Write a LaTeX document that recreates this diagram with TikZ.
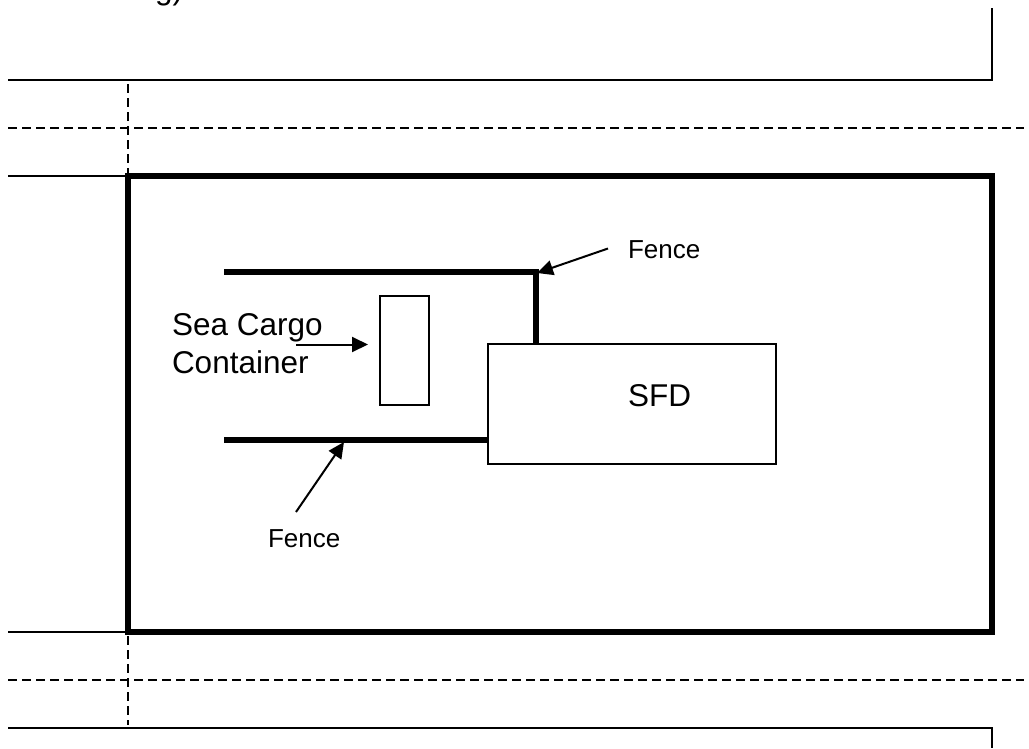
\documentclass[tikz,border=0pt]{standalone}
\usepackage{fontspec}
\setmainfont{Liberation Sans}
\usetikzlibrary{arrows.meta}
\tikzset{
  thin line/.style={line width=2pt,draw=black,line cap=butt},
  dash line/.style={line width=2pt,draw=black,dash pattern=on 8.5pt off 5.5pt},
  thick line/.style={line width=6pt,draw=black,line cap=butt},
  box/.style={draw=black,line width=2pt,fill=white,inner sep=0pt,outer sep=0pt,minimum width=#1},
  lead/.style={line width=2pt,draw=black,-{Triangle[length=16pt,width=15pt]}},
  bigtext/.style={inner sep=0pt,outer sep=0pt,anchor=base west,font=\fontsize{31.5}{38}\selectfont},
  smalltext/.style={inner sep=0pt,outer sep=0pt,anchor=base west,font=\fontsize{26}{31}\selectfont}
}
\begin{document}
\begin{tikzpicture}[x=1pt,y=-1pt]
\useasboundingbox (0,0) rectangle (1029,748);
\clip (0,0) rectangle (1029,748);
% clipped text at the top edge
\node[bigtext] (cut) at (155,-0.5) {g)};
% outer lines
\coordinate (tl) at (8,80);
\coordinate (tr) at (992,80);
\coordinate (tre) at (992,8);
\draw[thin line,line join=miter] (tl) -- (tr) -- (tre);
\coordinate (bl) at (8,728);
\coordinate (br) at (992,728);
\coordinate (bre) at (992,748);
\draw[thin line,line join=miter] (bl) -- (br) -- (bre);
% dashed lines
\coordinate (d1a) at (8,128);
\coordinate (d1b) at (1024,128);
\draw[dash line] (d1a) -- (d1b);
\coordinate (d2a) at (8,680);
\coordinate (d2b) at (1024,680);
\draw[dash line] (d2a) -- (d2b);
\coordinate (v1a) at (128,84);
\coordinate (v1b) at (128,173);
\draw[dash line] (v1a) -- (v1b);
\coordinate (v2a) at (128,636);
\coordinate (v2b) at (128,725);
\draw[dash line] (v2a) -- (v2b);
% site
\node[draw=black,line width=6pt,inner sep=0pt,outer sep=0pt,minimum width=864pt,minimum height=456pt,anchor=north west] (site) at (128,176) {};
\coordinate (s1) at (8,176);
\coordinate (s2) at (8,632);
\draw[thin line] (s1) -- (site.north west);
\draw[thin line] (s2) -- (site.south west);
% SFD and container
\node[box=288pt,minimum height=120pt,anchor=north west] (sfd) at (488,344) {};
\node[box=48.5pt,minimum height=108.5pt,anchor=north west] (container) at (380,296) {};
\node[bigtext] (sfdlabel) at (628,406.5) {SFD};
% fences
\coordinate (f1a) at (224,272);
\coordinate (f1c) at (536,272);
\coordinate (f1d) at (536,344);
\draw[thick line,line join=miter] (f1a) -- (f1c) -- (f1d);
\coordinate (f2a) at (224,440);
\coordinate (f2b) at (488,440);
\draw[thick line] (f2a) -- (f2b);
% labels
\node[bigtext] (sea) at (172,335) {Sea Cargo};
\node[bigtext] (cont) at (172,373) {Container};
\node[smalltext] (fence1) at (628,258.5) {Fence};
\node[smalltext] (fence2) at (268,547) {Fence};
% leaders
\coordinate (a1s) at (296,344.5);
\coordinate (a1e) at (368,344.5);
\draw[lead] (a1s) -- (a1e);
\coordinate (a2s) at (608,248.5);
\coordinate (a2e) at (537,273);
\draw[lead] (a2s) -- (a2e);
\coordinate (a3s) at (296,512);
\coordinate (a3e) at (344,442);
\draw[lead] (a3s) -- (a3e);
\end{tikzpicture}
\end{document}
